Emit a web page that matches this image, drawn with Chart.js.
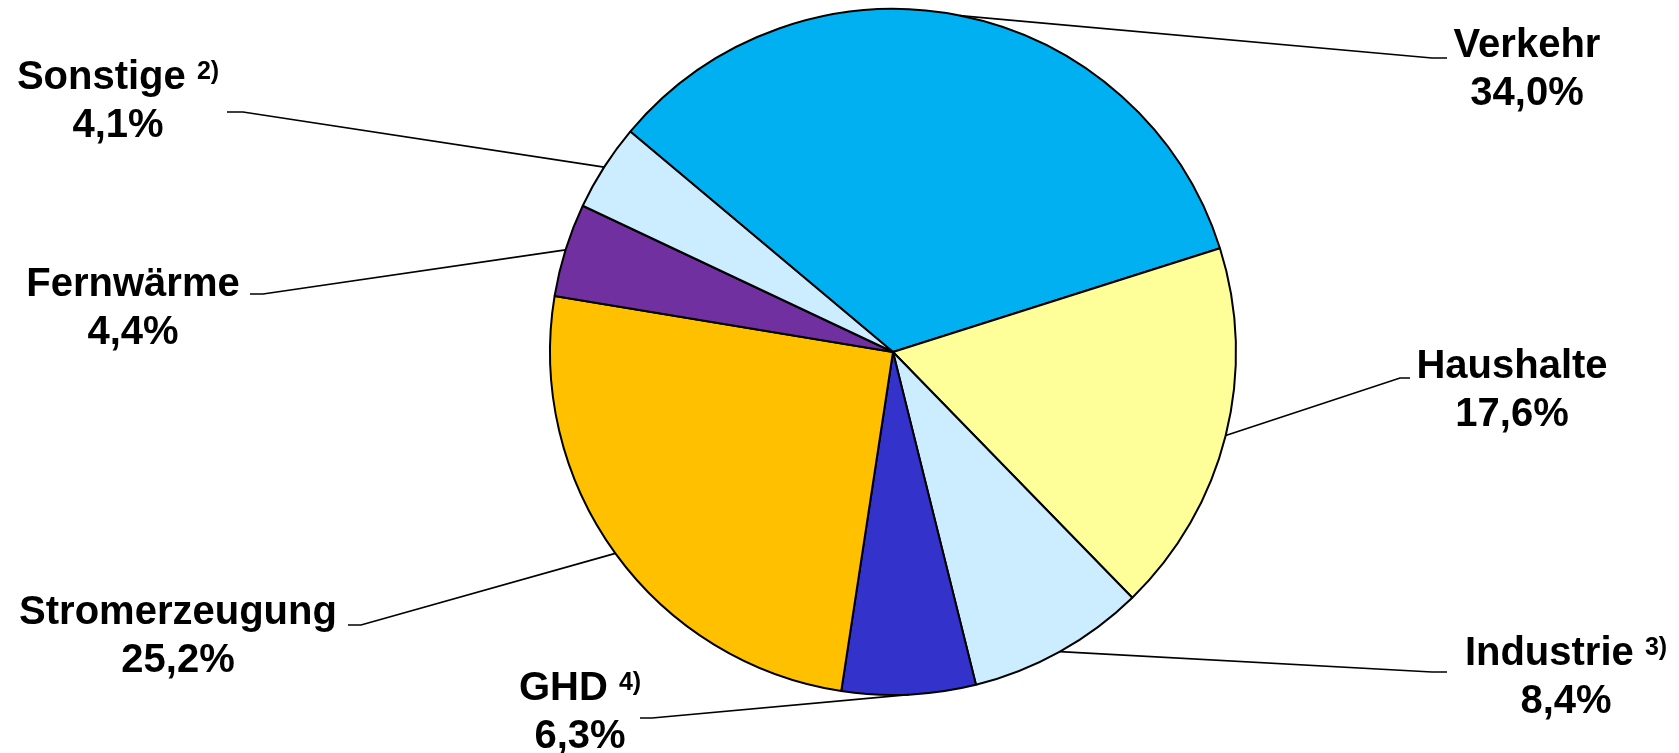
<!DOCTYPE html>
<html>
<head>
<meta charset="utf-8">
<script src="https://cdn.jsdelivr.net/npm/chart.js@4/dist/chart.umd.min.js"></script>
<style>
  html, body { margin: 0; padding: 0; background: #fff; }
  #wrap { width: 1679px; height: 753px; position: relative; }
</style>
</head>
<body>
<div id="wrap"><canvas id="pieChart"></canvas></div>
<script>
// Chart data
const categories = ['Verkehr', 'Haushalte', 'Industrie', 'GHD', 'Stromerzeugung', 'Fernwärme', 'Sonstige'];
const footnotes = ['', '', '3)', '4)', '', '', '2)'];
const shares = [34.0, 17.6, 8.4, 6.3, 25.2, 4.4, 4.1];
const shareLabels = ['34,0%', '17,6%', '8,4%', '6,3%', '25,2%', '4,4%', '4,1%'];

const sliceColors = ['#00B0F0', '#FFFF99', '#CCECFF', '#3333CC', '#FFC000', '#7030A0', '#CCECFF'];

// where each label sits (text centre x, first baseline y) and where its leader line ends
const labelPlacement = [
    { x: 1527, y: 57,  end: [1447, 58],  elbow: 1432 },
    { x: 1512, y: 378, end: [1410, 378], elbow: 1400 },
    { x: 1566, y: 665, end: [1447, 672], elbow: 1432 },
    { x: 580,  y: 700, end: [640, 718],  elbow: 652 },
    { x: 178,  y: 624, end: [348, 625],  elbow: 361 },
    { x: 133,  y: 296, end: [250, 294],  elbow: 263 },
    { x: 118,  y: 89,  end: [227, 112],  elbow: 243 }
];

const mainFont = 'bold 40px "Liberation Sans", Arial, sans-serif';
const supFont = 'bold 25px "Liberation Sans", Arial, sans-serif';

// Draws leader lines from each slice mid-angle and the two-line labels
const outsideLabels = {
    id: 'outsideLabels',
    afterDraw(chart) {
        const ctx = chart.ctx;
        const arcs = chart.getDatasetMeta(0).data;
        ctx.save();
        ctx.strokeStyle = '#000';
        ctx.lineWidth = 1.7;
        arcs.forEach((arc, i) => {
            const p = labelPlacement[i];
            const mid = (arc.startAngle + arc.endAngle) / 2;
            const ax = arc.x + Math.cos(mid) * arc.outerRadius;
            const ay = arc.y + Math.sin(mid) * arc.outerRadius;
            ctx.beginPath();
            ctx.moveTo(ax, ay);
            ctx.lineTo(p.elbow, p.end[1]);
            ctx.lineTo(p.end[0], p.end[1]);
            ctx.stroke();
        });

        ctx.fillStyle = '#000';
        ctx.textBaseline = 'alphabetic';
        ctx.textAlign = 'left';
        categories.forEach((name, i) => {
            const p = labelPlacement[i];
            ctx.font = mainFont;
            const mainW = ctx.measureText(name).width;
            let supW = 0, gap = 0;
            if (footnotes[i]) {
                gap = ctx.measureText(' ').width;
                ctx.font = supFont;
                supW = ctx.measureText(footnotes[i]).width;
            }
            const left = p.x - (mainW + gap + supW) / 2;
            ctx.font = mainFont;
            ctx.fillText(name, left, p.y);
            if (footnotes[i]) {
                ctx.font = supFont;
                ctx.fillText(footnotes[i], left + mainW + gap, p.y - 10);
            }
            ctx.font = mainFont;
            ctx.textAlign = 'center';
            ctx.fillText(shareLabels[i], p.x, p.y + 48);
            ctx.textAlign = 'left';
        });
        ctx.restore();
    }
};

new Chart(document.getElementById('pieChart'), {
    type: 'pie',
    data: {
        labels: categories,
        datasets: [{
            data: shares,
            backgroundColor: sliceColors,
            borderColor: '#000',
            borderWidth: 2
        }]
    },
    options: {
        responsive: true,
        maintainAspectRatio: false,
        animation: false,
        rotation: -50,
        layout: { padding: { left: 549, right: 442, top: 8, bottom: 57 } },
        plugins: {
            legend: { display: false },
            tooltip: { enabled: false }
        }
    },
    plugins: [outsideLabels]
});
</script>
</body>
</html>
